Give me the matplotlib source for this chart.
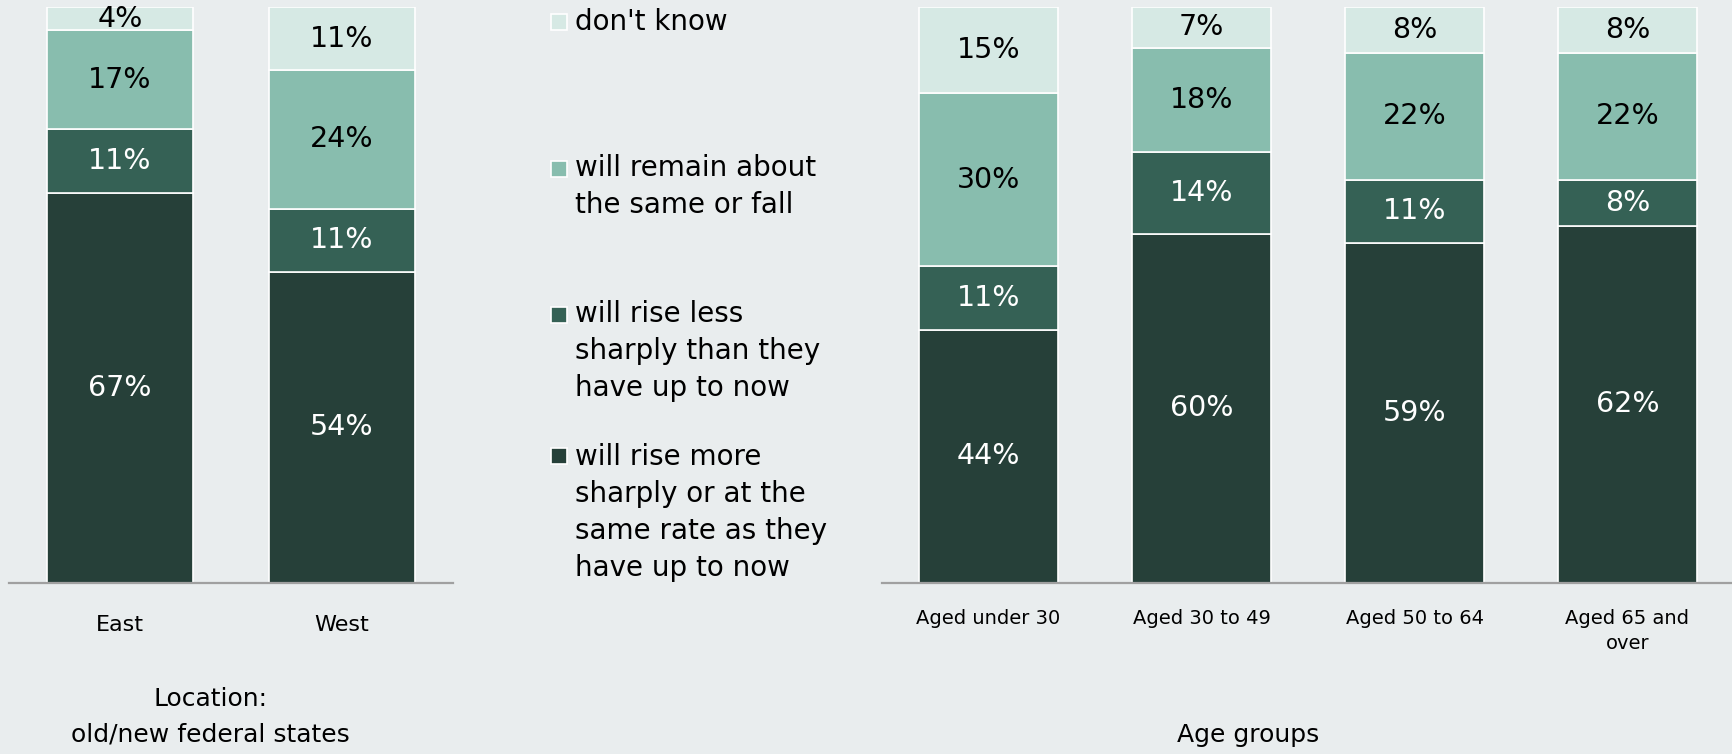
import matplotlib

matplotlib.use("Agg")
import matplotlib.pyplot as plt
import numpy as np
from matplotlib.patches import Rectangle

# ---- data -----------------------------------------------------------------
loc_groups = ["East", "West"]
age_groups = ["Aged under 30", "Aged 30 to 49", "Aged 50 to 64", "Aged 65 and\nover"]

# bottom -> top
series_names = [
    "will rise more\nsharply or at the\nsame rate as they\nhave up to now",
    "will rise less\nsharply than they\nhave up to now",
    "will remain about\nthe same or fall",
    "don't know",
]

rise_more_loc = [67, 54]
rise_less_loc = [11, 11]
same_fall_loc = [17, 24]
dont_know_loc = [4, 11]

rise_more_age = [44, 60, 59, 62]
rise_less_age = [11, 14, 11, 8]
same_fall_age = [30, 18, 22, 22]
dont_know_age = [15, 7, 8, 8]

colors = ["#264039", "#356155", "#88bdae", "#d6e9e4"]
text_colors = ["white", "white", "black", "black"]
bg = "#e9edee"

plt.rcParams["font.family"] = ["DejaVu Sans"]

W, H = 1732, 754
fig = plt.figure(figsize=(W / 100, H / 100), dpi=100, facecolor=bg)

def px(x, y, w, h):
    return [x / W, 1 - (y + h) / H, w / W, h / H]

ax_loc = fig.add_axes(px(9, 7, 444, 576))
ax_age = fig.add_axes(px(882, 7, 852, 576))


def stacked(ax, groups, series, tick_size, pad):
    data = np.array(series, dtype=float)
    share = data / data.sum(axis=0) * 100
    x = np.arange(len(groups))
    bottom = np.zeros(len(groups))
    for i in range(len(series)):
        bars = ax.bar(x, share[i], 0.656, bottom=bottom, color=colors[i],
                      edgecolor="white", linewidth=1.2)
        ax.bar_label(bars, labels=[f"{int(v)}%" for v in data[i]],
                     label_type="center", color=text_colors[i], fontsize=20.5)
        bottom += share[i]
    ax.set_xlim(-0.5, len(groups) - 0.5)
    ax.set_ylim(0, 100)
    ax.set_facecolor(bg)
    for s in ("top", "left", "right"):
        ax.spines[s].set_visible(False)
    ax.spines["bottom"].set_color("#a0a0a0")
    ax.spines["bottom"].set_linewidth(1.6)
    ax.set_yticks([])
    ax.set_xticks(x)
    ax.set_xticklabels(groups, fontsize=tick_size, linespacing=1.4)
    ax.tick_params(axis="x", length=0, pad=pad)


stacked(ax_loc, loc_groups,
        [rise_more_loc, rise_less_loc, same_fall_loc, dont_know_loc], 16, 23)
stacked(ax_age, age_groups,
        [rise_more_age, rise_less_age, same_fall_age, dont_know_age], 14, 19)

# axis titles
fig.text(210 / W, 1 - 717 / H, "Location:\nold/new federal states",
         ha="center", va="center", fontsize=18, linespacing=1.58)
fig.text(1248 / W, 1 - 735 / H, "Age groups", ha="center", va="center", fontsize=18)

# legend (top entry first)
first_line = [456, 315, 169, 22]
block_center = [512.5, 351, 186.5, 22]
for i in range(len(series_names)):
    fig.add_artist(Rectangle(((551) / W, 1 - (first_line[i] + 8) / H), 16 / W, 16 / H,
                             transform=fig.transFigure, facecolor=colors[i],
                             edgecolor="white", linewidth=1.2))
    fig.text(575 / W, 1 - block_center[i] / H, series_names[i], ha="left",
             va="center", fontsize=20, linespacing=1.41)

fig.savefig("out.png", dpi=100, facecolor=bg)
